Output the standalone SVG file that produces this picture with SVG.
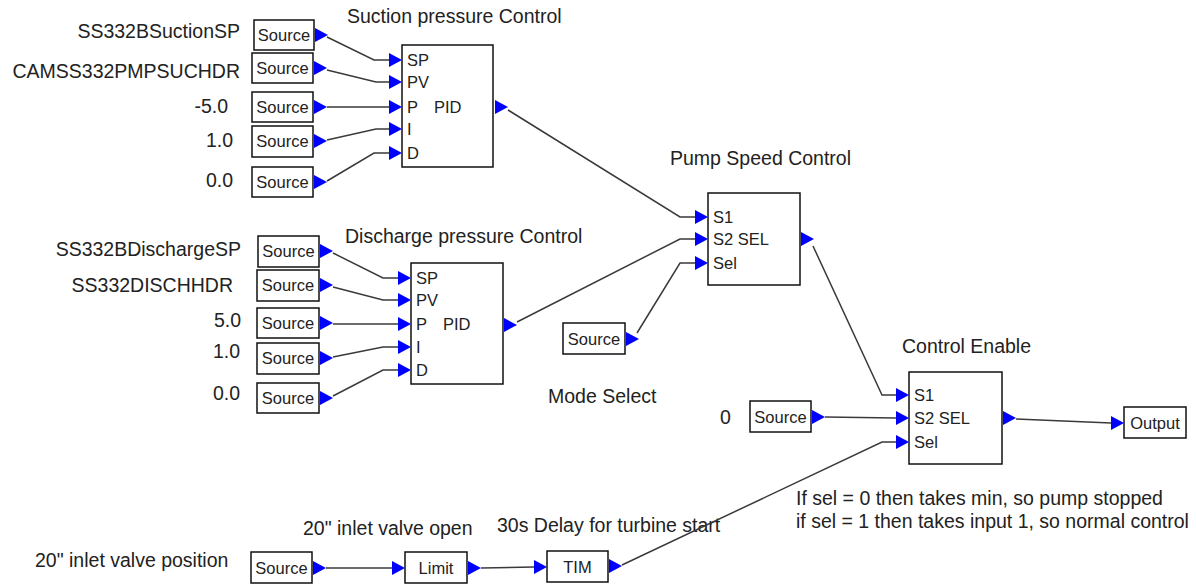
<svg xmlns="http://www.w3.org/2000/svg" width="1196" height="584" viewBox="0 0 1196 584">
<defs>
<style>
.box{fill:#fff;stroke:#111;stroke-width:1.5}
.t{font-family:"Liberation Sans",Arial,sans-serif;font-size:19.5px;fill:#222}
.s{font-family:"Liberation Sans",Arial,sans-serif;font-size:16.5px;fill:#222}
.m{text-anchor:middle}
.e{text-anchor:end}
.c{fill:none;stroke:#3a3a3a;stroke-width:1.5}
.a{fill:#0000ff}
</style>
<path id="ar" class="a" d="M0,-7L13,0L0,7Z"/>
</defs>
<rect width="1196" height="584" fill="#fff"/>

<g id="labels">
<text class="t" x="347" y="23">Suction pressure Control</text>
<text class="t e" x="240" y="38">SS332BSuctionSP</text>
<text class="t e" x="240" y="78">CAMSS332PMPSUCHDR</text>
<text class="t e" x="228" y="113">-5.0</text>
<text class="t e" x="233" y="147">1.0</text>
<text class="t e" x="233" y="187">0.0</text>
<text class="t" x="345" y="243">Discharge pressure Control</text>
<text class="t e" x="241" y="256">SS332BDischargeSP</text>
<text class="t e" x="233" y="292">SS332DISCHHDR</text>
<text class="t e" x="241" y="327">5.0</text>
<text class="t e" x="240" y="358">1.0</text>
<text class="t e" x="240" y="400">0.0</text>
<text class="t" x="670" y="165">Pump Speed Control</text>
<text class="t" x="548" y="403">Mode Select</text>
<text class="t" x="902" y="353">Control Enable</text>
<text class="t" x="720" y="424">0</text>
<text class="t" x="796" y="505">If sel = 0 then takes min, so pump stopped</text>
<text class="t" x="796" y="528">if sel = 1 then takes input 1, so normal control</text>
<text class="t" x="35" y="567">20" inlet valve position</text>
<text class="t" x="303" y="535">20" inlet valve open</text>
<text class="t" x="497" y="532">30s Delay for turbine start</text>
</g>

<g id="connectors">
<path class="c" d="M327,37L374,60L389,60"/>
<path class="c" d="M327,70L376,82L389,82"/>
<path class="c" d="M327,107L389,107"/>
<path class="c" d="M327,140L376,129L389,129"/>
<path class="c" d="M327,181L374,153L389,153"/>
<path class="c" d="M333,253L383,278L398,278"/>
<path class="c" d="M333,287L383,300L398,300"/>
<path class="c" d="M333,324L398,324"/>
<path class="c" d="M333,357L383,347L398,347"/>
<path class="c" d="M333,396L383,370L398,370"/>
<path class="c" d="M508,110L680,217L695,217"/>
<path class="c" d="M517,322L680,239L695,239"/>
<path class="c" d="M637,333L680,263L695,263"/>
<path class="c" d="M813,246L882,395L896,395"/>
<path class="c" d="M825,417L896,418"/>
<path class="c" d="M1016,419L1111,423"/>
<path class="c" d="M326,568L392,568"/>
<path class="c" d="M481,568L534,567"/>
<path class="c" d="M622,565L882,442L896,442"/>
</g>

<g id="src-sp1">
<rect class="box" x="254" y="20" width="60" height="30"/>
<text class="s m" x="284" y="41">Source</text>
<use href="#ar" x="315" y="35"/>
</g>
<g id="src-pv1">
<rect class="box" x="252" y="53" width="61" height="30"/>
<text class="s m" x="282.5" y="74">Source</text>
<use href="#ar" x="314" y="68"/>
</g>
<g id="src-p1">
<rect class="box" x="252" y="92" width="61" height="30"/>
<text class="s m" x="282.5" y="113">Source</text>
<use href="#ar" x="314" y="107"/>
</g>
<g id="src-i1">
<rect class="box" x="252" y="126" width="61" height="31"/>
<text class="s m" x="282.5" y="147">Source</text>
<use href="#ar" x="314" y="141"/>
</g>
<g id="src-d1">
<rect class="box" x="252" y="167" width="61" height="30"/>
<text class="s m" x="282.5" y="188">Source</text>
<use href="#ar" x="314" y="182"/>
</g>

<g id="pid1">
<rect class="box" x="402" y="45" width="91" height="122"/>
<use href="#ar" x="389" y="60"/>
<use href="#ar" x="389" y="82"/>
<use href="#ar" x="389" y="107"/>
<use href="#ar" x="389" y="129"/>
<use href="#ar" x="389" y="153"/>
<text class="s" x="407" y="66">SP</text>
<text class="s" x="407" y="88">PV</text>
<text class="s" x="407" y="113">P</text>
<text class="s" x="434" y="113">PID</text>
<text class="s" x="407" y="135">I</text>
<text class="s" x="407" y="159">D</text>
<use href="#ar" x="495" y="107"/>
</g>

<g id="src-sp2">
<rect class="box" x="258" y="236" width="61" height="31"/>
<text class="s m" x="288.5" y="257">Source</text>
<use href="#ar" x="320" y="251"/>
</g>
<g id="src-pv2">
<rect class="box" x="257" y="270" width="62" height="31"/>
<text class="s m" x="288" y="291">Source</text>
<use href="#ar" x="320" y="285"/>
</g>
<g id="src-p2">
<rect class="box" x="257" y="308" width="62" height="30"/>
<text class="s m" x="288" y="329">Source</text>
<use href="#ar" x="320" y="323"/>
</g>
<g id="src-i2">
<rect class="box" x="257" y="343" width="62" height="31"/>
<text class="s m" x="288" y="364">Source</text>
<use href="#ar" x="320" y="358"/>
</g>
<g id="src-d2">
<rect class="box" x="257" y="383" width="62" height="30"/>
<text class="s m" x="288" y="404">Source</text>
<use href="#ar" x="320" y="398"/>
</g>

<g id="pid2">
<rect class="box" x="411" y="263" width="92" height="121"/>
<use href="#ar" x="398" y="278"/>
<use href="#ar" x="398" y="300"/>
<use href="#ar" x="398" y="324"/>
<use href="#ar" x="398" y="347"/>
<use href="#ar" x="398" y="370"/>
<text class="s" x="416" y="284">SP</text>
<text class="s" x="416" y="306">PV</text>
<text class="s" x="416" y="330">P</text>
<text class="s" x="443" y="330">PID</text>
<text class="s" x="416" y="353">I</text>
<text class="s" x="416" y="376">D</text>
<use href="#ar" x="504" y="325"/>
</g>

<g id="pump-speed-sel">
<rect class="box" x="708" y="193" width="92" height="92"/>
<use href="#ar" x="695" y="217"/>
<use href="#ar" x="695" y="239"/>
<use href="#ar" x="695" y="263"/>
<text class="s" x="713" y="223">S1</text>
<text class="s" x="713" y="245">S2 SEL</text>
<text class="s" x="713" y="269">Sel</text>
<use href="#ar" x="801" y="239"/>
</g>

<g id="src-mode">
<rect class="box" x="563" y="323" width="62" height="31"/>
<text class="s m" x="594" y="345">Source</text>
<use href="#ar" x="626" y="339"/>
</g>

<g id="control-enable-sel">
<rect class="box" x="909" y="372" width="93" height="92"/>
<use href="#ar" x="896" y="395"/>
<use href="#ar" x="896" y="418"/>
<use href="#ar" x="896" y="442"/>
<text class="s" x="914" y="401">S1</text>
<text class="s" x="914" y="424">S2 SEL</text>
<text class="s" x="914" y="448">Sel</text>
<use href="#ar" x="1003" y="418"/>
</g>

<g id="src-zero">
<rect class="box" x="750" y="401" width="61" height="31"/>
<text class="s m" x="780.5" y="423">Source</text>
<use href="#ar" x="812" y="417"/>
</g>

<g id="output">
<use href="#ar" x="1111" y="423"/>
<rect class="box" x="1124" y="407" width="62" height="31"/>
<text class="s m" x="1155" y="429">Output</text>
</g>

<g id="src-valve">
<rect class="box" x="251" y="552" width="61" height="31"/>
<text class="s m" x="281.5" y="574">Source</text>
<use href="#ar" x="313" y="568"/>
</g>

<g id="limit">
<use href="#ar" x="392" y="568"/>
<rect class="box" x="405" y="552" width="62" height="31"/>
<text class="s m" x="436" y="574">Limit</text>
<use href="#ar" x="468" y="568"/>
</g>

<g id="tim">
<use href="#ar" x="534" y="567"/>
<rect class="box" x="547" y="551" width="61" height="31"/>
<text class="s m" x="577.5" y="573">TIM</text>
<use href="#ar" x="609" y="566"/>
</g>
</svg>
